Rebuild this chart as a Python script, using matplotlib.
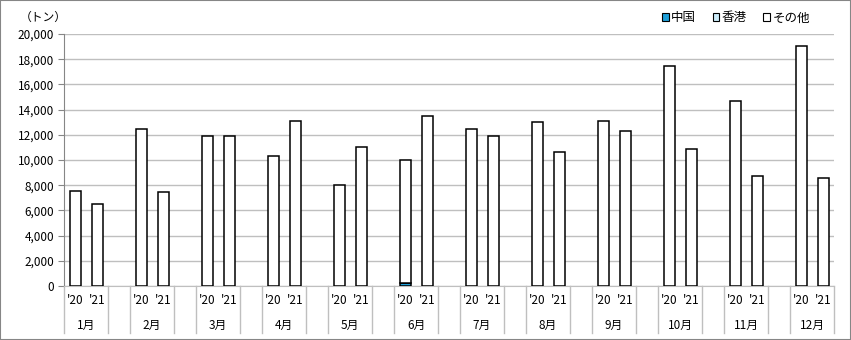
import matplotlib.pyplot as plt
import matplotlib.transforms as mtransforms
from matplotlib.patches import Rectangle
import numpy as np

plt.rcParams['font.family'] = ['Noto Sans CJK JP', 'DejaVu Sans']

months = ['1月', '2月', '3月', '4月', '5月', '6月', '7月', '8月', '9月', '10月', '11月', '12月']
years = ["'20", "'21"]
series = ['中国', '香港', 'その他']
colors = ['#1E9FD8', '#CCECFA', '#FFFFFF']

# (トン) per month, '20 and '21
china_20 = [30, 0, 30, 30, 30, 200, 0, 30, 30, 0, 0, 0]
china_21 = [0, 0, 0, 0, 0, 0, 0, 0, 30, 0, 0, 0]
hk_20 = [0] * 12
hk_21 = [0] * 12
other_20 = [7520, 12500, 11870, 10270, 7970, 9780, 12450, 12970, 13070, 17450, 14700, 19050]
other_21 = [6500, 7450, 11900, 13100, 11000, 13500, 11900, 10600, 12270, 10850, 8700, 8550]

fig = plt.figure(figsize=(8.51, 3.40), dpi=100)
ax = fig.add_axes([64 / 851, 54 / 340, 770 / 851, 252 / 340])

n = len(months)
x20 = np.arange(n) * 3
x21 = x20 + 1
w = 0.5
lw = 1.1
fs = 8.5

for xs, c, h, o in [(x20, china_20, hk_20, other_20), (x21, china_21, hk_21, other_21)]:
    c = np.array(c); h = np.array(h); o = np.array(o)
    ax.bar(xs, c, w, color=colors[0], edgecolor='black', linewidth=lw, zorder=3)
    ax.bar(xs, h, w, bottom=c, color=colors[1], edgecolor='black', linewidth=lw, zorder=3)
    ax.bar(xs, o, w, bottom=c + h, color=colors[2], edgecolor='black', linewidth=lw, zorder=3)

ax.set_xlim(-0.5, 3 * n - 1.5)
ax.set_ylim(0, 20000)
ax.set_yticks(np.arange(0, 20001, 2000))
ax.set_yticklabels([f'{v:,}' for v in range(0, 20001, 2000)], fontsize=fs)
ax.grid(axis='y', color='#BFBFBF', linewidth=1)
ax.set_axisbelow(True)
ax.tick_params(axis='y', length=4, color='#868686', pad=3)
ax.set_xticks([])
for s in ['top', 'right']:
    ax.spines[s].set_visible(False)
ax.spines['left'].set_color('#868686')
ax.spines['bottom'].set_color('#BFBFBF')

# two-level category labels
trans = mtransforms.blended_transform_factory(ax.transData, ax.transAxes)
for i in range(n):
    for xx, lab in zip([x20[i], x21[i]], years):
        ax.text(xx, -15 / 252, lab, transform=trans, ha='center', va='center', fontsize=fs)
    ax.text(x20[i] + 0.5, -39 / 252, months[i], transform=trans, ha='center', va='center', fontsize=fs)
bounds = [-0.5]
for i in range(n):
    bounds.append(3 * i + 1.5)
    if i < n - 1:
        bounds.append(3 * i + 2.5)
for b in bounds:
    ax.plot([b, b], [0, -47 / 252], transform=trans, color='#BFBFBF', linewidth=1, clip_on=False)

fig.text(20 / 851, 1 - 17 / 340, '（トン）', fontsize=fs, va='center', ha='left')

handles = [Rectangle((0, 0), 1, 1, facecolor=col, edgecolor='black', linewidth=0.8) for col in colors]
fig.legend(handles, series, loc='center', bbox_to_anchor=(736 / 851, 1 - 18 / 340), ncol=3,
           frameon=False, fontsize=9, handlelength=0.55, handleheight=0.55, handletextpad=0.2,
           columnspacing=1.3)

fig.patches.append(Rectangle((0, 0), 1, 1, transform=fig.transFigure, fill=False,
                             edgecolor='#868686', linewidth=1.5))

fig.savefig('out.png', dpi=100)
